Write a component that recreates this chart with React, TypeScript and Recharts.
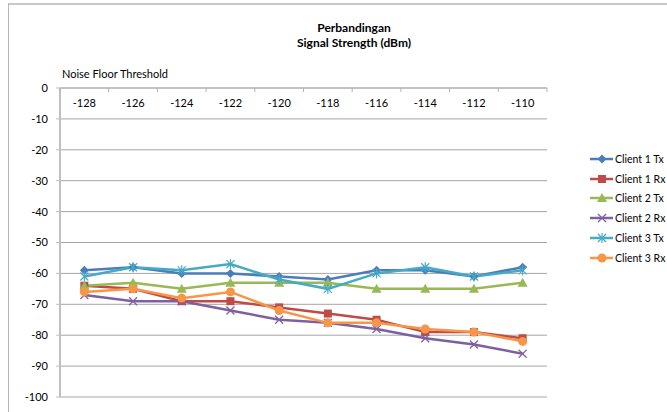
import React from "react"
import { LineChart, Line, XAxis, YAxis, CartesianGrid, Legend } from "recharts"

const thresholds = ["-128", "-126", "-124", "-122", "-120", "-118", "-116", "-114", "-112", "-110"]
const client1Tx = [-59, -58, -60, -60, -61, -62, -59, -59, -61, -58]
const client1Rx = [-64, -65, -69, -69, -71, -73, -75, -79, -79, -81]
const client2Tx = [-64, -63, -65, -63, -63, -63, -65, -65, -65, -63]
const client2Rx = [-67, -69, -69, -72, -75, -76, -78, -81, -83, -86]
const client3Tx = [-61, -58, -59, -57, -62, -65, -60, -58, -61, -59]
const client3Rx = [-66, -65, -68, -66, -72, -76, -76, -78, -79, -82]
const yTicks = [0, -10, -20, -30, -40, -50, -60, -70, -80, -90, -100]

const data = thresholds.map((t, i) => ({
  threshold: t,
  c1tx: client1Tx[i],
  c1rx: client1Rx[i],
  c2tx: client2Tx[i],
  c2rx: client2Rx[i],
  c3tx: client3Tx[i],
  c3rx: client3Rx[i],
}))

const FONT = "Lato, 'Open Sans', sans-serif"
const W = 667
const H = 412
const X_HEIGHT = 20
const MARGIN = { top: 88 - X_HEIGHT, right: 120, bottom: 15, left: 0 }
const Y_WIDTH = 60
const BAND = (W - MARGIN.right - Y_WIDTH) / thresholds.length

type Shape = "diamond" | "square" | "triangle" | "x" | "star" | "circle"

const series: { key: string; name: string; color: string; shape: Shape }[] = [
  { key: "c1tx", name: "Client 1 Tx", color: "#4A7EBB", shape: "diamond" },
  { key: "c1rx", name: "Client 1 Rx", color: "#BE4B48", shape: "square" },
  { key: "c2tx", name: "Client 2 Tx", color: "#98B954", shape: "triangle" },
  { key: "c2rx", name: "Client 2 Rx", color: "#7D60A0", shape: "x" },
  { key: "c3tx", name: "Client 3 Tx", color: "#46AAC5", shape: "star" },
  { key: "c3rx", name: "Client 3 Rx", color: "#F79646", shape: "circle" },
]

function marker(shape: Shape, cx: number, cy: number, color: string, key?: string) {
  switch (shape) {
    case "diamond":
      return <polygon key={key} points={`${cx},${cy - 4.5} ${cx + 4.5},${cy} ${cx},${cy + 4.5} ${cx - 4.5},${cy}`} fill={color} />
    case "square":
      return <rect key={key} x={cx - 4} y={cy - 4} width={8} height={8} fill={color} />
    case "triangle":
      return <polygon key={key} points={`${cx},${cy - 5} ${cx + 5},${cy + 4} ${cx - 5},${cy + 4}`} fill={color} />
    case "x":
      return (
        <g key={key} stroke={color} strokeWidth={1.2}>
          <line x1={cx - 4} y1={cy - 4} x2={cx + 4} y2={cy + 4} />
          <line x1={cx - 4} y1={cy + 4} x2={cx + 4} y2={cy - 4} />
        </g>
      )
    case "star":
      return (
        <g key={key} stroke={color} strokeWidth={1.2}>
          <line x1={cx - 4} y1={cy - 4} x2={cx + 4} y2={cy + 4} />
          <line x1={cx - 4} y1={cy + 4} x2={cx + 4} y2={cy - 4} />
          <line x1={cx} y1={cy - 5} x2={cx} y2={cy + 5} />
        </g>
      )
    default:
      return <circle key={key} cx={cx} cy={cy} r={4.5} fill={color} />
  }
}

// labels sit below the top axis line, tick marks at the category boundaries
const CategoryTick = (props: any) => {
  const { x, payload, index } = props
  const y = MARGIN.top + X_HEIGHT
  const last = index === thresholds.length - 1
  return (
    <g>
      <line x1={x - BAND / 2} y1={y} x2={x - BAND / 2} y2={y + 4} stroke="#b3b3b3" />
      {last && <line x1={x + BAND / 2} y1={y} x2={x + BAND / 2} y2={y + 4} stroke="#b3b3b3" />}
      <text x={x} y={y + 19} textAnchor="middle" fontSize={11} fill="#000" fontFamily={FONT}>
        {payload.value}
      </text>
    </g>
  )
}

const LegendContent = () => (
  <div style={{ fontFamily: FONT, fontSize: 10.5, color: "#000", whiteSpace: "nowrap" }}>
    {series.map((s) => (
      <div key={s.key} style={{ height: 19.8, display: "flex", alignItems: "center" }}>
        <svg width={25} height={12}>
          <line x1={0} y1={6} x2={23} y2={6} stroke={s.color} strokeWidth={2.5} />
          {marker(s.shape, 12, 6, s.color)}
        </svg>
        <span>{s.name}</span>
      </div>
    ))}
  </div>
)

export default function App() {
  return (
    <div style={{ position: "absolute", left: 0, top: 0, width: W, height: H, background: "#fff", fontFamily: FONT, overflow: "hidden" }}>
      <div style={{ position: "absolute", left: 8, top: 3, width: W - 8, height: 2, background: "#c8c8c8" }} />
      <div style={{ position: "absolute", left: 8, top: 3, width: 1, height: H - 3, background: "#b8b8b8" }} />
      <div style={{ position: "absolute", left: 0, top: 20, width: 708, textAlign: "center", fontWeight: "bold", fontSize: 12, lineHeight: "15px", color: "#000" }}>
        Perbandingan
        <br />
        Signal Strength (dBm)
      </div>
      <div style={{ position: "absolute", left: 62, top: 67, fontSize: 11, color: "#000" }}>Noise Floor Threshold</div>
      <LineChart width={W} height={H} data={data} margin={MARGIN}>
        <CartesianGrid vertical={false} stroke="#a6a6a6" />
        <XAxis
          dataKey="threshold"
          orientation="top"
          height={X_HEIGHT}
          padding={{ left: BAND / 2, right: BAND / 2 }}
          tickSize={0}
          tickMargin={0}
          tickLine={false}
          axisLine={{ stroke: "#b3b3b3" }}
          tick={<CategoryTick />}
          interval={0}
        />
        <YAxis
          type="number"
          domain={[-100, 0]}
          ticks={yTicks}
          width={Y_WIDTH}
          tickSize={4}
          tickMargin={8}
          axisLine={{ stroke: "#bfbfbf", strokeWidth: 2 }}
          tickLine={{ stroke: "#bfbfbf" }}
          tick={{ fontSize: 11, fill: "#000", fontFamily: FONT }}
          interval={0}
        />
        <Legend
          layout="horizontal"
          align="center"
          verticalAlign="middle"
          content={<LegendContent />}
          wrapperStyle={{ left: 590, top: 149, width: 77 }}
        />
        {series.map((s) => (
          <Line
            key={s.key}
            dataKey={s.key}
            name={s.name}
            stroke={s.color}
            strokeWidth={2.5}
            isAnimationActive={false}
            dot={(p: any) => marker(s.shape, p.cx, p.cy, s.color, `${s.key}-${p.index}`)}
            activeDot={false}
          />
        ))}
      </LineChart>
    </div>
  )
}
